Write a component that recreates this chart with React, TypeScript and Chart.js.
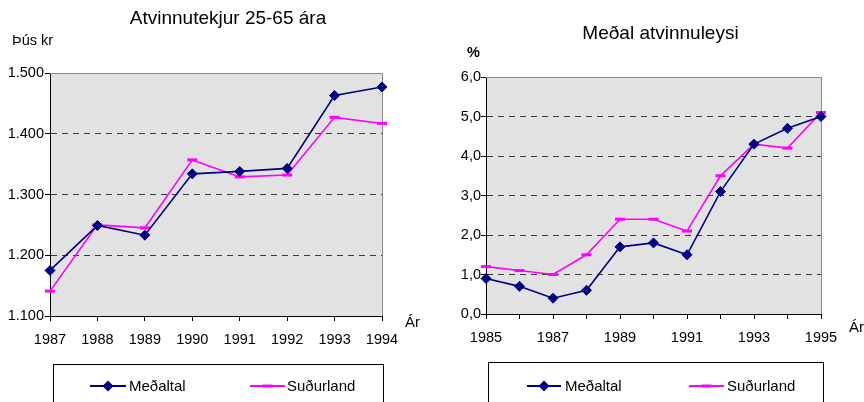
import React, { useEffect, useRef } from 'react';
import { Chart, registerables } from 'chart.js';

Chart.register(...registerables);

// ---- data ----
const seriesNames = ['Meðaltal', 'Suðurland'];

const incomeYears = ['1987', '1988', '1989', '1990', '1991', '1992', '1993', '1994'];
const incomeAvg = [1175, 1249, 1233, 1334, 1338, 1343, 1463, 1477];
const incomeSouth = [1141, 1250, 1245, 1357, 1329, 1332, 1427, 1417];
const incomeTicks = { min: 1100, max: 1500, step: 100 };

const unempYears = ['1985', '1986', '1987', '1988', '1989', '1990', '1991', '1992', '1993', '1994', '1995'];
const unempAvg = [0.9, 0.7, 0.4, 0.6, 1.7, 1.8, 1.5, 3.1, 4.3, 4.7, 5.0];
const unempSouth = [1.2, 1.1, 1.0, 1.5, 2.4, 2.4, 2.1, 3.5, 4.3, 4.2, 5.1];
const unempTicks = { min: 0, max: 6, step: 1 };

const FONT = '"Liberation Sans", Arial, sans-serif';
const AVG_COLOR = '#000080';
const SOUTH_COLOR = '#ff00ff';

type Decor = {
  title: string;
  titleX: number;
  titleY: number;
  unit: string;
  unitX: number;
  unitY: number;
  unitBold: boolean;
  axisName: string;
  axisX: number;
  axisY: number;
  box: [number, number, number];
  items: { x0: number; x1: number; textX: number }[];
  itemY: number;
};

function decorPlugin(d: Decor) {
  return {
    id: 'decor',
    beforeDraw(chart: any) {
      const { ctx, chartArea: a } = chart;
      ctx.save();
      ctx.fillStyle = '#ffffff';
      ctx.fillRect(0, 0, chart.width, chart.height);
      ctx.fillStyle = '#e2e2e2';
      ctx.fillRect(a.left, a.top, a.right - a.left, a.bottom - a.top);
      ctx.restore();
    },
    beforeDatasetsDraw(chart: any) {
      const { ctx, chartArea: a } = chart;
      ctx.save();
      ctx.strokeStyle = '#8a8a8a';
      ctx.lineWidth = 1;
      ctx.beginPath();
      ctx.moveTo(Math.round(a.left), Math.round(a.top) + 0.5);
      ctx.lineTo(Math.round(a.right) + 0.5, Math.round(a.top) + 0.5);
      ctx.lineTo(Math.round(a.right) + 0.5, Math.round(a.bottom));
      ctx.stroke();
      ctx.restore();
    },
    afterDraw(chart: any) {
      const { ctx } = chart;
      ctx.save();
      ctx.fillStyle = '#000';
      ctx.textBaseline = 'middle';
      ctx.textAlign = 'center';
      ctx.font = `19px ${FONT}`;
      ctx.fillText(d.title, d.titleX, d.titleY);
      ctx.textAlign = 'left';
      ctx.font = `${d.unitBold ? 'bold ' : ''}14.5px ${FONT}`;
      ctx.fillText(d.unit, d.unitX, d.unitY);
      ctx.font = `15px ${FONT}`;
      ctx.fillText(d.axisName, d.axisX, d.axisY);

      // legend box
      const [bx0, bx1, by0] = d.box;
      ctx.fillStyle = '#fff';
      ctx.fillRect(bx0, by0, bx1 - bx0, chart.height - by0 + 5);
      ctx.strokeStyle = '#000';
      ctx.lineWidth = 1;
      ctx.strokeRect(bx0 + 0.5, by0 + 0.5, bx1 - bx0, chart.height - by0 + 5);

      chart.data.datasets.forEach((ds: any, i: number) => {
        const it = d.items[i];
        const y = d.itemY;
        ctx.strokeStyle = ds.borderColor;
        ctx.lineWidth = 2;
        ctx.beginPath();
        ctx.moveTo(it.x0, y);
        ctx.lineTo(it.x1, y);
        ctx.stroke();
        const cx = (it.x0 + it.x1) / 2;
        if (ds.pointStyle === 'rectRot') {
          const r = 5.5;
          ctx.fillStyle = ds.borderColor;
          ctx.beginPath();
          ctx.moveTo(cx - r, y);
          ctx.lineTo(cx, y - r);
          ctx.lineTo(cx + r, y);
          ctx.lineTo(cx, y + r);
          ctx.closePath();
          ctx.fill();
        } else {
          ctx.lineWidth = 3;
          ctx.beginPath();
          ctx.moveTo(cx - 5, y);
          ctx.lineTo(cx + 5, y);
          ctx.stroke();
        }
        ctx.fillStyle = '#000';
        ctx.font = `15px ${FONT}`;
        ctx.textAlign = 'left';
        ctx.fillText(ds.label, it.textX, y + 1);
      });
      ctx.restore();
    },
  };
}

type Cfg = {
  labels: string[];
  avg: number[];
  south: number[];
  ticks: { min: number; max: number; step: number };
  fmt: (v: number) => string;
  xLabel: (i: number) => string;
  top: number;
  right: number;
  yWidth: number;
  xHeight: number;
  yPad: number;
  decor: Decor;
};

function makeConfig(c: Cfg): any {
  const tickFont = { family: FONT, size: 14.5 };
  return {
    type: 'line',
    data: {
      labels: c.labels,
      datasets: [
        {
          label: seriesNames[0],
          data: c.avg,
          borderColor: AVG_COLOR,
          backgroundColor: AVG_COLOR,
          borderWidth: 1.6,
          pointStyle: 'rectRot',
          pointRadius: 5,
          pointBorderWidth: 1,
          pointBackgroundColor: AVG_COLOR,
          pointBorderColor: AVG_COLOR,
          tension: 0,
          clip: false,
        },
        {
          label: seriesNames[1],
          data: c.south,
          borderColor: SOUTH_COLOR,
          backgroundColor: SOUTH_COLOR,
          borderWidth: 1.6,
          pointStyle: 'line',
          pointRadius: 5,
          pointBorderWidth: 3,
          pointBorderColor: SOUTH_COLOR,
          tension: 0,
          clip: false,
        },
      ],
    },
    options: {
      animation: false,
      responsive: false,
      maintainAspectRatio: false,
      devicePixelRatio: 1,
      events: [],
      layout: { padding: { left: 0, top: c.top, right: c.right, bottom: 0 } },
      plugins: {
        legend: { display: false },
        title: { display: false },
        tooltip: { enabled: false },
      },
      scales: {
        x: {
          type: 'category',
          offset: false,
          grid: {
            drawOnChartArea: false,
            drawTicks: true,
            tickLength: 5,
            tickColor: '#000',
            tickWidth: 1,
          },
          border: { display: true, color: '#000', width: 1 },
          ticks: {
            autoSkip: false,
            maxRotation: 0,
            minRotation: 0,
            padding: 10,
            color: '#000',
            font: tickFont,
            callback: (_v: any, i: number) => c.xLabel(i),
          },
          afterFit: (s: any) => {
            s.height = c.xHeight;
          },
        },
        y: {
          min: c.ticks.min,
          max: c.ticks.max,
          grid: {
            drawOnChartArea: true,
            drawTicks: true,
            tickLength: 5,
            tickColor: '#000',
            tickWidth: 1,
            lineWidth: 1,
            color: (ctx: any) =>
              ctx.tick && (ctx.tick.value === c.ticks.min || ctx.tick.value === c.ticks.max)
                ? 'rgba(0,0,0,0)'
                : '#3a3a3a',
          },
          border: { display: true, color: '#000', width: 1, dash: [6, 5] },
          ticks: {
            stepSize: c.ticks.step,
            padding: c.yPad,
            color: '#000',
            font: tickFont,
            callback: (v: any) => c.fmt(Number(v)),
          },
          afterFit: (s: any) => {
            s.width = c.yWidth;
          },
        },
      },
    },
    plugins: [decorPlugin(c.decor)],
  };
}

const incomeCfg: Cfg = {
  labels: incomeYears,
  avg: incomeAvg,
  south: incomeSouth,
  ticks: incomeTicks,
  fmt: (v) => (v / 1000).toFixed(3),
  xLabel: (i) => incomeYears[i],
  top: 73,
  right: 50,
  yWidth: 50,
  xHeight: 86,
  yPad: 1,
  decor: {
    title: 'Atvinnutekjur 25-65 ára',
    titleX: 228,
    titleY: 19,
    unit: 'Þús kr',
    unitX: 12,
    unitY: 41,
    unitBold: false,
    axisName: 'Ár',
    axisX: 405,
    axisY: 323,
    box: [53, 383, 364],
    items: [
      { x0: 90, x1: 126, textX: 129 },
      { x0: 250, x1: 285, textX: 287 },
    ],
    itemY: 386,
  },
};

const unempCfg: Cfg = {
  labels: unempYears,
  avg: unempAvg,
  south: unempSouth,
  ticks: unempTicks,
  fmt: (v) => v.toFixed(1).replace('.', ','),
  xLabel: (i) => (i % 2 === 0 ? unempYears[i] : ''),
  top: 77,
  right: 43,
  yWidth: 54,
  xHeight: 88,
  yPad: 0,
  decor: {
    title: 'Meðal atvinnuleysi',
    titleX: 228.5,
    titleY: 34,
    unit: '%',
    unitX: 35,
    unitY: 53,
    unitBold: true,
    axisName: 'Ár',
    axisX: 417,
    axisY: 328,
    box: [56, 391, 362],
    items: [
      { x0: 95, x1: 129, textX: 133 },
      { x0: 257, x1: 292, textX: 295 },
    ],
    itemY: 386,
  },
};

function ChartPanel({ cfg, left }: { cfg: Cfg; left: number }) {
  const ref = useRef<HTMLCanvasElement | null>(null);
  useEffect(() => {
    if (!ref.current) return;
    const chart = new Chart(ref.current, makeConfig(cfg));
    return () => chart.destroy();
  }, [cfg]);
  return (
    <canvas
      ref={ref}
      width={432}
      height={402}
      style={{ position: 'absolute', left, top: 0, width: 432, height: 402, display: 'block' }}
    />
  );
}

export default function App() {
  return (
    <div
      style={{
        position: 'fixed',
        left: 0,
        top: 0,
        width: 864,
        height: 402,
        background: '#fff',
        overflow: 'hidden',
      }}
    >
      <ChartPanel cfg={incomeCfg} left={0} />
      <ChartPanel cfg={unempCfg} left={432} />
    </div>
  );
}
